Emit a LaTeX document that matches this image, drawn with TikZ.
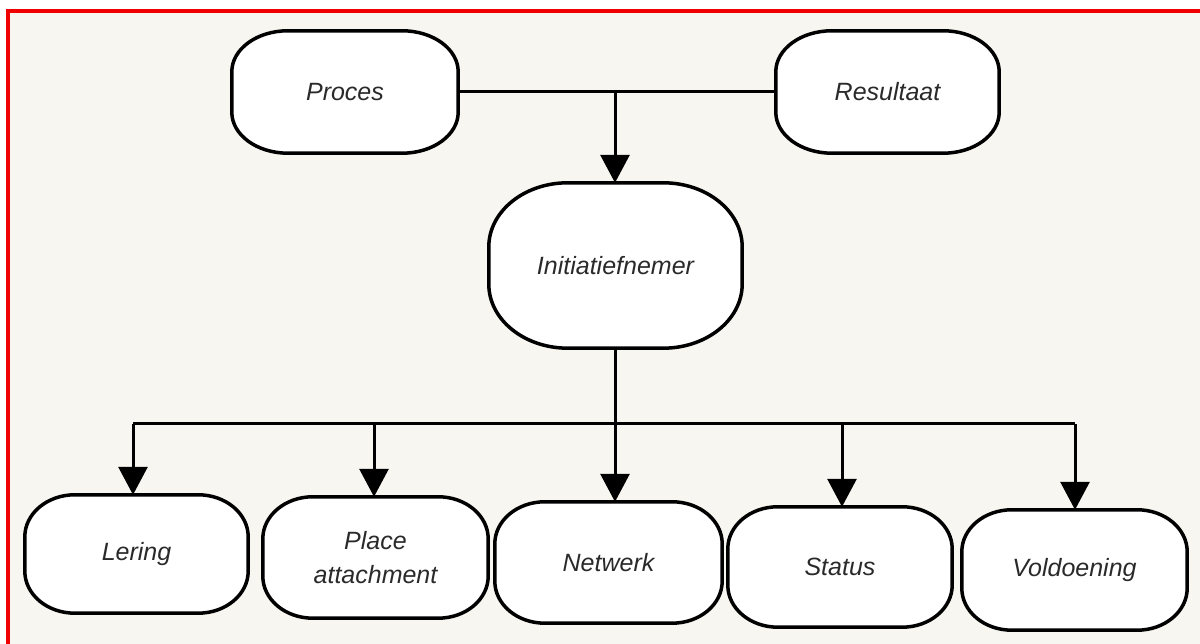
\documentclass[tikz,border=0pt]{standalone}
\usepackage{fontspec}
\setmainfont{Liberation Sans}
\usetikzlibrary{arrows.meta,calc}
\definecolor{bg}{HTML}{F8F6F0}
\definecolor{frame}{HTML}{F00000}
\definecolor{txt}{HTML}{2A2A2A}
\pgfdeclarelayer{canvas}
\pgfdeclarelayer{shapes}
\pgfsetlayers{canvas,shapes,main}
\newcommand\drawcapsule[3]{%
  \filldraw[fill=white, draw=black, line width=3.5pt]
  ($(#1.north west)+(#2,0)$) -- ($(#1.north east)+(-#2,0)$)
  arc[start angle=90,end angle=0,x radius=#2pt,y radius=#3pt]
  -- ($(#1.south east)+(0,#3)$)
  arc[start angle=0,end angle=-90,x radius=#2pt,y radius=#3pt]
  -- ($(#1.south west)+(#2,0)$)
  arc[start angle=270,end angle=180,x radius=#2pt,y radius=#3pt]
  -- ($(#1.north west)+(0,-#3)$)
  arc[start angle=180,end angle=90,x radius=#2pt,y radius=#3pt]
  -- cycle;}
\begin{document}
\begin{tikzpicture}[x=1pt,y=1pt,
  box/.style={inner sep=0pt, align=center, font=\fontsize{25}{34}\selectfont\itshape, text=txt},
  conn/.style={line width=3pt, draw=black},
  arr/.style={conn, -{Triangle[width=29pt,length=28pt]}},
]
\useasboundingbox (0,0) rectangle (1200,644);
\begin{pgfonlayer}{canvas}
\fill[white] (0,0) rectangle (1200,644);
\fill[bg] (10,0) rectangle (1200,631);
\fill[frame] (6,631) rectangle (1200,635);
\fill[frame] (6,0) rectangle (10,635);
\end{pgfonlayer}

\node[box, minimum width=226pt, minimum height=122pt] (proces) at (345,552) {Proces};
\node[box, minimum width=223pt, minimum height=122pt] (resultaat) at (887.5,552) {Resultaat};
\node[box, minimum width=253pt, minimum height=165pt] (init) at (615.5,378.5) {Initiatiefnemer};
\node[box, minimum width=223pt, minimum height=118pt] (lering) at (136.5,90) {Lering};
\node[box, minimum width=225pt, minimum height=121pt] (place) at (375.5,86.5) {Place\\attachment};
\node[box, minimum width=227pt, minimum height=121pt] (netwerk) at (608.5,81.5) {Netwerk};
\node[box, minimum width=224pt, minimum height=120pt] (status) at (840,77) {Status};
\node[box, minimum width=225pt, minimum height=120pt] (voldoening) at (1074.5,74) {Voldoening};

\begin{pgfonlayer}{shapes}
\drawcapsule{proces}{56}{41}
\drawcapsule{resultaat}{56}{41}
\drawcapsule{init}{79}{64}
\drawcapsule{lering}{50}{42}
\drawcapsule{place}{50}{42}
\drawcapsule{netwerk}{50}{42}
\drawcapsule{status}{50}{42}
\drawcapsule{voldoening}{50}{42}
\end{pgfonlayer}

\coordinate (top) at (615,552);
\coordinate (hub) at (615,220);
\coordinate (bL) at (133,220);
\coordinate (bP) at (374,220);
\coordinate (bS) at (842,220);
\coordinate (bV) at (1075,220);

\draw[conn] (proces.east) -- (resultaat.west);
\draw[arr] (top) -- (top |- init.north);
\draw[conn] (init.south) -- (init.south |- hub);
\draw[conn] (bL) -- (bV);
\draw[arr] (bL) -- (bL |- lering.north);
\draw[arr] (bP) -- (bP |- place.north);
\draw[arr] (hub) -- (hub |- netwerk.north);
\draw[arr] (bS) -- (bS |- status.north);
\draw[arr] (bV) -- (bV |- voldoening.north);
\end{tikzpicture}
\end{document}
